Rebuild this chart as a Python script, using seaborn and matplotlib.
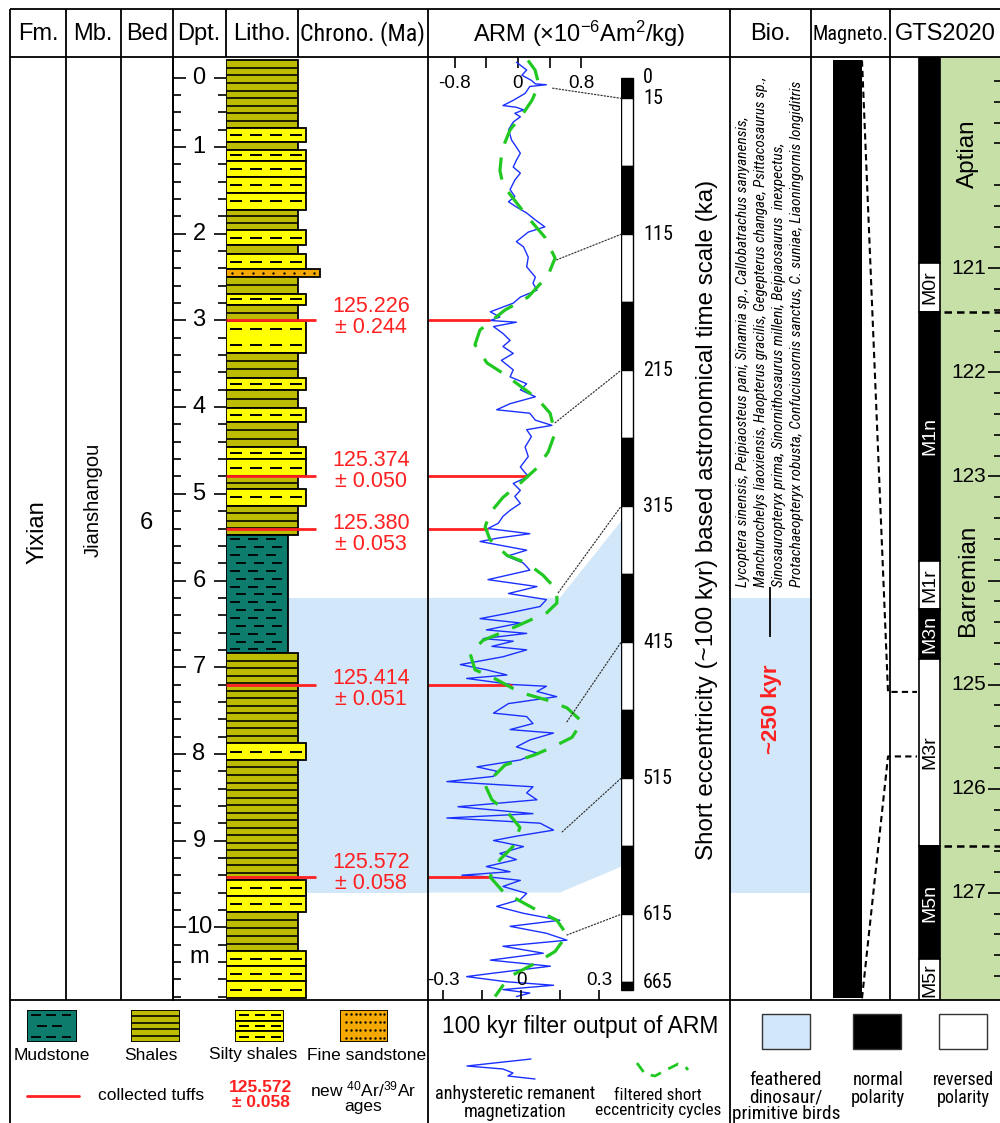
import numpy as np
import pandas as pd
import matplotlib
matplotlib.use("Agg")
import matplotlib.pyplot as plt
import seaborn as sns
from matplotlib import font_manager
from matplotlib.font_manager import FontProperties
from matplotlib.patches import Polygon, Rectangle, ConnectionPatch
from matplotlib.transforms import blended_transform_factory as blend

# ------------------------------------------------------------------ data
# lithology: bed tops (m) and rock type; the last bed ends at the section base
bed_top = [0.00, 0.78, 0.94, 1.03, 1.16, 1.35, 1.53, 1.72, 1.96, 2.13, 2.23, 2.41,
           2.50, 2.69, 2.82, 3.01, 3.37, 3.66, 3.80, 4.01, 4.17, 4.46, 4.60, 4.80,
           4.94, 5.14, 5.48, 6.84, 7.88, 8.07, 9.46, 9.64, 9.83, 10.28, 10.45, 10.62]
section_base = 10.82
bed_lith = ['shale', 'silty', 'shale', 'silty', 'silty', 'silty', 'silty', 'shale',
            'silty', 'shale', 'silty', 'sand', 'shale', 'silty', 'shale', 'silty',
            'shale', 'silty', 'shale', 'silty', 'shale', 'silty', 'silty', 'shale',
            'silty', 'shale', 'mud', 'shale', 'silty', 'shale', 'silty', 'silty',
            'shale', 'silty', 'silty', 'silty']

# dated tuffs
tuff_depth = [3.00, 4.80, 5.40, 7.20, 9.42]
tuff_age = ['125.226', '125.374', '125.380', '125.414', '125.572']
tuff_err = ['0.244', '0.050', '0.053', '0.051', '0.058']

# anhysteretic remanent magnetization (detrended), depth in m
arm_depth = [0.02, 0.11, 0.17, 0.23, 0.27, 0.28, 0.30, 0.38, 0.46, 0.52,
             0.54, 0.57, 0.61, 0.65, 0.71, 0.80, 0.92, 1.00, 1.07, 1.15,
             1.23, 1.30, 1.38, 1.49, 1.57, 1.63, 1.69, 1.76, 1.84, 1.92,
             1.98, 2.09, 2.15, 2.27, 2.38, 2.50, 2.57, 2.65, 2.73, 2.80,
             2.90, 2.96, 3.00, 3.02, 3.07, 3.15, 3.23, 3.30, 3.38, 3.46,
             3.57, 3.65, 3.73, 3.80, 3.88, 3.96, 4.03, 4.07, 4.15, 4.21,
             4.26, 4.34, 4.46, 4.57, 4.69, 4.80, 4.88, 4.96, 5.03, 5.11,
             5.19, 5.26, 5.34, 5.40, 5.46, 5.51, 5.55, 5.65, 5.72, 5.80,
             5.88, 5.99, 6.07, 6.15, 6.22, 6.30, 6.38, 6.44, 6.49, 6.57,
             6.61, 6.67, 6.70, 6.76, 6.80, 6.88, 6.97, 7.03, 7.09, 7.13,
             7.20, 7.22, 7.28, 7.34, 7.42, 7.53, 7.57, 7.65, 7.72, 7.76,
             7.84, 7.92, 7.99, 8.07, 8.15, 8.20, 8.26, 8.32, 8.38, 8.45,
             8.53, 8.61, 8.69, 8.74, 8.80, 8.88, 8.95, 9.00, 9.07, 9.15,
             9.22, 9.30, 9.36, 9.40, 9.42, 9.46, 9.53, 9.61, 9.68, 9.76,
             9.84, 9.92, 9.99, 10.07, 10.15, 10.22, 10.30, 10.38, 10.45, 10.53,
             10.57, 10.63, 10.67, 10.72, 10.76, 10.80]
arm_value = [-0.02, 0.11, 0.05, 0.17, 0.22, 0.36, 0.15, 0.09, -0.06, -0.19,
             -0.02, 0.07, -0.04, 0.03, -0.06, -0.12, -0.08, -0.02, 0.03, -0.02,
             -0.06, 0.03, -0.04, -0.10, -0.04, -0.12, -0.02, 0.11, 0.22, 0.34,
             0.13, -0.02, 0.07, 0.13, 0.11, 0.22, 0.19, 0.24, 0.03, -0.06,
             -0.35, -0.23, -0.35, -0.02, -0.31, -0.19, -0.10, -0.19, -0.06, -0.21,
             -0.06, -0.10, 0.11, 0.03, 0.22, -0.10, -0.27, 0.15, 0.22, 0.43,
             0.11, 0.17, 0.09, 0.13, 0.03, 0.13, -0.06, 0.03, -0.04, 0.03,
             -0.10, -0.19, -0.25, -0.38, 0.15, -0.25, -0.48, 0.11, -0.14, 0.07,
             0.15, -0.38, 0.24, -0.12, 0.36, 0.28, -0.14, -0.48, 0.03, -0.40,
             0.11, -0.44, -0.06, -0.33, 0.11, -0.19, -0.73, -0.40, -0.14, -0.65,
             -0.08, 0.36, 0.24, 0.49, -0.12, -0.31, 0.11, 0.19, -0.10, 0.45,
             0.15, -0.02, 0.24, 0.03, -0.52, -0.27, -0.31, -0.90, 0.19, 0.11,
             0.24, -0.76, 0.19, -0.90, 0.28, 0.45, -0.02, -0.31, 0.07, -0.23,
             -0.02, -0.40, -0.10, -0.71, -0.37, 0.03, -0.19, 0.11, 0.03, -0.27,
             0.07, 0.53, -0.10, 0.36, 0.62, -0.19, 0.32, -0.35, 0.41, -0.31,
             -0.65, -0.14, 0.45, -0.19, 0.15, -0.02]

# 100-kyr band-pass output of ARM (short eccentricity)
ecc_depth = [0.00, 0.11, 0.28, 0.46, 0.63, 0.80, 1.03, 1.27, 1.44, 1.65,
             1.84, 2.04, 2.28, 2.48, 2.73, 2.88, 3.11, 3.28, 3.49, 3.61,
             3.90, 4.07, 4.30, 4.52, 4.70, 4.88, 5.04, 5.22, 5.38, 5.53,
             5.71, 5.80, 5.94, 6.11, 6.26, 6.37, 6.51, 6.61, 6.69, 6.84,
             7.03, 7.12, 7.29, 7.38, 7.47, 7.63, 7.81, 7.92, 8.01, 8.13,
             8.36, 8.53, 8.68, 8.85, 9.07, 9.22, 9.42, 9.59, 9.71, 9.81,
             9.92, 10.09, 10.28, 10.40, 10.55, 10.67, 10.80]
ecc_value = [0.027, 0.054, 0.069, 0.042, 0.004, -0.042, -0.073, -0.081, -0.069, -0.015,
             0.035, 0.092, 0.131, 0.104, 0.027, -0.062, -0.158, -0.177, -0.131, -0.069,
             0.062, 0.112, 0.131, 0.104, 0.062, -0.004, -0.069, -0.119, -0.138, -0.119,
             -0.054, 0.023, 0.085, 0.138, 0.138, 0.100, -0.004, -0.081, -0.146, -0.196,
             -0.177, -0.108, -0.004, 0.100, 0.177, 0.235, 0.196, 0.123, 0.054, -0.062,
             -0.138, -0.112, -0.050, -0.004, -0.031, -0.081, -0.119, -0.069, 0.004, 0.065,
             0.138, 0.177, 0.131, 0.065, -0.031, -0.069, -0.100]

arm_ticks = [-0.8, -0.4, 0.0, 0.4, 0.8]
arm_tick_labels = ['-0.8', '', '0', '', '0.8']
ecc_ticks = [-0.3, -0.15, 0.0, 0.15, 0.3]
ecc_tick_labels = ['-0.3', '', '0', '', '0.3']

# astronomical time scale (ka): alternating 50-kyr half cycles
ats_bounds = [0, 15, 65, 115, 165, 215, 265, 315, 365, 415, 465, 515, 565, 615, 665, 671]
ats_labels = [0, 15, 115, 215, 315, 415, 515, 615, 665]
tie_ka = [15, 115, 215, 315, 415, 515, 615]
tie_depth = [0.32, 2.30, 4.18, 6.14, 7.63, 8.90, 10.09]
tie_arm = [0.44, 0.49, 0.47, 0.51, 0.62, 0.56, 0.62]

# feathered dinosaur / primitive bird interval
band_top, band_base = 6.20, 9.60
band_top_ka, band_base_ka = 326, 580
band_corner_arm = 0.53
fossil_top, fossil_base = 6.07, 6.65

bio_lines = [
    "Lycoptera sinensis, Peipiaosteus pani, Sinamia sp., Callobatrachus sanyanensis,",
    "Manchurochelys liaoxiensis, Haopterus gracilis, Gegepterus changae, Psittacosaurus sp.,",
    "Sinosauropteryx prima, Sinornithosaurus milleni, Beipiaosaurus  inexpectus,",
    "Protachaeopteryx robusta, Confuciusornis sanctus, C. suniae, Liaoningornis longiditris",
]

# magnetostratigraphy of the section
mag_top = [0.00]
mag_base = [10.82]
mag_pol = ['N']
corr_depth = [0.00, 10.82]
corr_ma = [125.07, 125.69]

# GTS2020 polarity chrons and stages (Ma)
chron_top = [118.97, 120.95, 121.42, 123.81, 124.27, 124.75, 126.55, 127.64]
chron_base = chron_top[1:] + [128.03]
chron_name = ['', 'M0r', 'M1n', 'M1r', 'M3n', 'M3r', 'M5n', 'M5r']
chron_pol = ['N', 'R', 'N', 'R', 'N', 'R', 'N', 'R']
stage_bounds = [121.42, 126.55]
stage_name = ['Aptian', 'Barremian']
stage_mid = [119.9, 124.0]
ma_major = [121, 122, 123, 124, 125, 126, 127]
ma_labels = [121, 122, 123, 125, 126, 127]

# ------------------------------------------------------------------ style
sns.set_theme(style="white", rc={"axes.edgecolor": "black", "text.color": "black",
                                 "xtick.color": "black", "ytick.color": "black"})
SANS = ['Liberation Sans', 'DejaVu Sans']
plt.rcParams['font.family'] = SANS
plt.rcParams['mathtext.fontset'] = 'custom'
plt.rcParams['mathtext.rm'] = 'Liberation Sans'
plt.rcParams['mathtext.it'] = 'Liberation Sans:italic'
plt.rcParams['mathtext.bf'] = 'Liberation Sans:bold'


def _weight(v):
    try:
        return int(v)
    except (TypeError, ValueError):
        return {'normal': 400, 'regular': 400, 'book': 400, 'roman': 400}.get(str(v).lower(), 0)


COND_PREF = ['Liberation Sans Narrow', 'Arial Narrow', 'Roboto Condensed', 'Roboto',
             'Noto Sans', 'Open Sans', 'Lato', 'Inter', 'DejaVu Sans']


def find_condensed(italic):
    """Return the file of a regular-weight condensed sans face, if one is installed."""
    best = None
    for f in font_manager.fontManager.ttflist:
        low = f.name.lower()
        st = str(f.stretch).lower()
        cond = ('narrow' in low or ('condensed' in low and 'extra' not in low and 'ultra' not in low)
                or st in ('condensed', 'semi-condensed'))
        if not cond or any(k in f.name for k in ('Mono', 'Serif', 'CJK', 'Display')):
            continue
        if not 350 <= _weight(f.weight) <= 450:
            continue
        if (str(f.style).lower() in ('italic', 'oblique')) != italic:
            continue
        rank = next((i for i, p in enumerate(COND_PREF) if f.name.startswith(p)), len(COND_PREF))
        key = (rank, 0 if (st == 'condensed' or 'narrow' in low) else 1)
        if best is None or key < best[0]:
            best = (key, f.fname)
    return best[1] if best else None


COND_FILE = find_condensed(False)
COND_IT_FILE = find_condensed(True)

RED = '#ff2121'
BLUE = '#1a30ff'
GREEN = '#22c822'
BAND = '#d2e7f9'
GTS_GREEN = '#c6e0a8'
LITH = {
    'shale': dict(c='#bdbb02', w=72),
    'silty': dict(c='#ffff00', w=80),
    'sand': dict(c='#f5a900', w=94),
    'mud': dict(c='#0e7c6c', w=62),
}

W, H = 1000, 1123
TOP, BOT = 57, 1000
D_LIM = (10.84, -0.04)
KA_LIM = (678.0, -15.4)
MA_LIM = (128.03, 118.97)

fig = plt.figure(figsize=(W / 100, H / 100), dpi=100)


def box(x0, y0, x1, y1, z=1):
    ax = fig.add_axes([x0 / W, 1 - y1 / H, (x1 - x0) / W, (y1 - y0) / H], zorder=z)
    ax.patch.set_visible(False)
    for s in ax.spines.values():
        s.set_visible(False)
    ax.set_xticks([])
    ax.set_yticks([])
    ax.grid(False)
    return ax


fit_jobs = []


def txt(ax, x, y, s, size, narrow=False, italic=False, fit=None, vertical=False, **kw):
    kw.setdefault('ha', 'center')
    kw.setdefault('va', 'center')
    path = (COND_IT_FILE if italic else COND_FILE) if narrow else None
    if path:
        t = ax.text(x, y, s, fontproperties=FontProperties(fname=path, size=size), **kw)
    else:
        t = ax.text(x, y, s, fontsize=size, family=SANS,
                    style='italic' if italic else 'normal', **kw)
    if fit is not None:
        fit_jobs.append((t, fit, vertical))
    return t


def draw_beds(ax, tops, bases, kinds, row, widths=None, dash=(12, 20), dot_dx=10.3, lw=1.3):
    tops = np.asarray(tops, float)
    bases = np.asarray(bases, float)
    th = bases - tops
    w = np.array([LITH[k]['w'] for k in kinds], float) if widths is None \
        else np.full(len(kinds), widths, float)
    ax.barh(y=(tops + bases) / 2, width=w, height=th, left=0,
            color=[LITH[k]['c'] for k in kinds], edgecolor='black', linewidth=lw, zorder=2)
    for t0, h, ww, k in zip(tops, th, w, kinds):
        if k == 'shale':
            n = max(1, int(round(h / row)))
            ys = t0 + h * np.arange(1, n) / n
            if len(ys):
                ax.hlines(ys, 0, ww, color='black', lw=lw * 0.9, zorder=3)
        elif k == 'silty':
            n = max(1, int(round(h / (2 * row))))
            ys = t0 + h * (np.arange(n) + 0.5) / n
            xs = np.arange(4, ww - dash[0] + 1, dash[1])
            for yy in ys:
                ax.hlines(np.full(len(xs), yy), xs, xs + dash[0], color='black', lw=1.4, zorder=3)
        elif k == 'mud':
            n = max(1, int(h / row))
            ys = t0 + h * (np.arange(n) + 0.5) / n
            for i, yy in enumerate(ys):
                xs = np.arange(4 + 6 * (i % 2), ww - 10, dash[1] * 0.9)
                ax.hlines(np.full(len(xs), yy), xs, xs + dash[0] * 0.8, color='black', lw=1.3, zorder=3)
        elif k == 'sand':
            n = max(1, int(round(h / row)))
            ys = t0 + h * (np.arange(n) + 0.5) / n
            xs = np.arange(6, ww - 2, dot_dx)
            X, Y = np.meshgrid(xs, ys)
            ax.scatter(X.ravel(), Y.ravel(), s=3, color='black', linewidths=0, zorder=3)


# ------------------------------------------------------------------ axes
ax_dpt = box(173, TOP, 226, BOT)
ax_lith = box(226, TOP, 428, BOT, z=2)
ax_arm = box(428, TOP, 621, BOT, z=2)
ax_time = box(621, TOP, 700, BOT, z=2)
ax_bio = box(730, TOP, 811, BOT)
ax_mag = box(811, TOP, 890, BOT)
ax_gts = box(890, TOP, 1000, BOT)
frame = box(0, 0, W, H, z=10)
frame.set_xlim(0, W)
frame.set_ylim(H, 0)

for a in (ax_dpt, ax_lith, ax_arm, ax_bio, ax_mag):
    a.set_ylim(*D_LIM)
ax_dpt.set_xlim(0, 53)
ax_lith.set_xlim(0, 202)
ax_arm.set_xlim(-1.139, 1.304)
ax_time.set_xlim(0, 79)
ax_time.set_ylim(*KA_LIM)
ax_bio.set_xlim(0, 81)
ax_mag.set_xlim(0, 79)
ax_gts.set_xlim(0, 110)
ax_gts.set_ylim(*MA_LIM)

# ------------------------------------------------------------------ depth scale
ax_dpt.spines['left'].set_visible(True)
ax_dpt.spines['left'].set_linewidth(1.3)
depth_major = [0.2, 1, 2, 3, 4, 5, 6, 7, 8, 9, 10]
depth_labels = ['0', '1', '2', '3', '4', '5', '6', '7', '8', '9', '10']
depth_minor = [round(0.2 * k, 1) for k in range(1, 55) if round(0.2 * k, 1) not in depth_major]
ax_dpt.set_yticks(depth_major)
ax_dpt.set_yticks(depth_minor, minor=True)
ax_dpt.tick_params(axis='y', which='both', left=True, right=True, direction='in',
                   labelleft=False, labelright=False, width=1.2, color='black')
ax_dpt.tick_params(axis='y', which='major', length=9)
ax_dpt.tick_params(axis='y', which='minor', length=6)
ax_dpt.set_ylim(*D_LIM)
for p, lab in zip(depth_major, depth_labels):
    txt(ax_dpt, 26, p, lab, 17)
txt(ax_dpt, 26, 10.34, 'm', 17)

# ------------------------------------------------------------------ lithology + tuffs
ax_lith.axhspan(band_top, band_base, color=BAND, lw=0, zorder=0)
bed_base = bed_top[1:] + [section_base]
draw_beds(ax_lith, bed_top, bed_base, bed_lith, row=0.089)
ax_lith.hlines(tuff_depth, 0, 90, color=RED, lw=2.0, zorder=5)
label_shift = [-0.04, -0.06, 0.06, 0.05, -0.04]
for d, a, e, s in zip(tuff_depth, tuff_age, tuff_err, label_shift):
    txt(ax_lith, 145, d + s, f"{a}\n\u00b1 {e}", 15.5, color=RED, linespacing=1.0, zorder=6)

# ------------------------------------------------------------------ ARM + filter
arm_df = pd.DataFrame({'depth': arm_depth, 'arm': arm_value})
ecc_df = pd.DataFrame({'depth': ecc_depth, 'ecc': ecc_value})
sns.lineplot(data=arm_df, x='arm', y='depth', ax=ax_arm, sort=False, estimator=None,
             color=BLUE, lw=1.0, zorder=3)
ax_g = ax_arm.twiny()
ax_g.set_zorder(3)
ax_g.patch.set_visible(False)
for s in ax_g.spines.values():
    s.set_visible(False)
sns.lineplot(data=ecc_df, x='ecc', y='depth', ax=ax_g, sort=False, estimator=None,
             color=GREEN, lw=2.3)
ax_g.lines[-1].set_linestyle((0, (7, 4.5)))
for a in (ax_arm, ax_g):
    a.set_xlabel('')
    a.set_ylabel('')
    a.grid(False)
ax_arm.set_xlim(-1.139, 1.304)
ax_g.set_xlim(-0.3577, 0.3846)
ax_arm.set_ylim(*D_LIM)

ax_arm.set_xticks(arm_ticks)
ax_arm.set_yticks([])
ax_arm.tick_params(axis='x', top=True, bottom=False, labeltop=False, labelbottom=False,
                   direction='in', length=8, width=1.2, color='black')
ax_g.set_xticks(ecc_ticks)
ax_g.tick_params(axis='x', top=False, bottom=True, labeltop=False, labelbottom=False,
                 direction='in', length=7, width=1.2, color='black')
top_tr = blend(ax_arm.transData, ax_arm.transAxes)
for v, lab in zip(arm_ticks, arm_tick_labels):
    if lab:
        txt(ax_arm, v, 0.9724, lab, 13.5, transform=top_tr)
bot_tr = blend(ax_g.transData, ax_g.transAxes)
for v, lab in zip(ecc_ticks, ecc_tick_labels):
    if lab:
        txt(ax_g, v, 0.0212, lab, 13.5, transform=bot_tr)

ends = np.interp(tuff_depth, arm_depth, arm_value)
ax_arm.hlines(tuff_depth, -1.139, ends, color=RED, lw=2.0, zorder=5)

# time scale bar
seg_lo = ats_bounds[:-1]
seg_h = np.diff(ats_bounds)
seg_col = ['black' if i % 2 == 0 else 'white' for i in range(len(seg_lo))]
ax_time.bar(x=6, width=12, bottom=seg_lo, height=seg_h, color=seg_col,
            edgecolor='black', linewidth=1.0, zorder=3)
for t in ats_labels:
    txt(ax_time, 22, t, str(t), 14.5, narrow=True, ha='left')
txt(frame, 707, 520, 'Short eccentricity (~100 kyr) based astronomical time scale (ka)', 15,
    rotation=90, fit=680, vertical=True)


def to_data(ax_from, ax_to, x, y):
    return ax_to.transData.inverted().transform(ax_from.transData.transform((x, y)))


xr_top = to_data(ax_time, ax_arm, 0, band_top_ka)
xr_bot = to_data(ax_time, ax_arm, 0, band_base_ka)
band_poly = [(-1.139, band_top), (band_corner_arm, band_top), tuple(xr_top),
             tuple(xr_bot), (band_corner_arm, band_base), (-1.139, band_base)]
ax_arm.add_patch(Polygon(band_poly, closed=True, fc=BAND, ec='none', zorder=0))

for t, d, v in zip(tie_ka, tie_depth, tie_arm):
    fig.add_artist(ConnectionPatch(xyA=(v, d), coordsA=ax_arm.transData,
                                   xyB=(0, t), coordsB=ax_time.transData,
                                   ls=(0, (1, 1.6)), lw=0.9, color='#333333', zorder=4))

# ------------------------------------------------------------------ biostratigraphy
ax_bio.axhspan(band_top, band_base, color=BAND, lw=0, zorder=0)
ax_bio.vlines(40, fossil_top, fossil_base, color='black', lw=1.3)
bio_x = [13, 31, 49, 67]
bio_len = [475, 513, 443, 506]
for x, line, L in zip(bio_x, bio_lines, bio_len):
    txt(ax_bio, x, 6.07, line, 10, narrow=True, italic=True, rotation=90, va='bottom',
        fit=L, vertical=True)
txt(ax_bio, 41, 7.49, '~250 kyr', 16, rotation=90, color=RED, weight='bold')

# ------------------------------------------------------------------ magnetostratigraphy
ax_mag.bar(x=36.5, width=29, bottom=mag_top, height=np.subtract(mag_base, mag_top),
           color=['black' if p == 'N' else 'white' for p in mag_pol], lw=0)

# ------------------------------------------------------------------ GTS2020
ax_gts.axvspan(50, 110, color=GTS_GREEN, lw=0, zorder=0)
ax_gts.bar(x=39.5, width=21, bottom=chron_top, height=np.subtract(chron_base, chron_top),
           color=['black' if p == 'N' else 'white' for p in chron_pol],
           edgecolor='black', linewidth=1.2, zorder=2)
for n, t0, t1, p in zip(chron_name, chron_top, chron_base, chron_pol):
    if n:
        txt(ax_gts, 39.5, (t0 + t1) / 2, n, 14, rotation=90,
            color='white' if p == 'N' else 'black', zorder=4)
ax_gts.hlines(stage_bounds, 29, 110, color='black', lw=1.8, ls=(0, (3, 2)), zorder=3)
for n, m in zip(stage_name, stage_mid):
    txt(ax_gts, 78, m, n, 17.5, rotation=90)
ax_gts.set_yticks(ma_major)
ax_gts.set_yticks([round(119.2 + 0.2 * k, 1) for k in range(44)
                   if abs(round(119.2 + 0.2 * k, 1) - round(119.2 + 0.2 * k)) > 0.01],
                  minor=True)
ax_gts.tick_params(axis='y', which='both', left=False, right=True, labelleft=False,
                   labelright=False, direction='in', width=1.2, color='black')
ax_gts.tick_params(axis='y', which='major', length=9)
ax_gts.tick_params(axis='y', which='minor', length=4)
ax_gts.set_ylim(*MA_LIM)
for m in ma_labels:
    txt(ax_gts, 96, m, str(m), 15, ha='right')


def fpx(ax, x, y):
    return frame.transData.inverted().transform(ax.transData.transform((x, y)))


for d, m in zip(corr_depth, corr_ma):
    p0 = fpx(ax_mag, 51, d)
    p1 = fpx(ax_gts, -2, m)
    p2 = fpx(ax_gts, 27, m)
    frame.plot([p0[0], p1[0], p2[0]], [p0[1], p1[1], p2[1]], color='black',
               lw=1.5, ls=(0, (3, 2)))

# ------------------------------------------------------------------ frame + headers
LW = 1.3
frame.hlines([9, TOP, BOT], 10, W, color='black', lw=LW)
frame.vlines([10, 66, 121, 173, 226, 298, 428, 730, 811, 890], 9, TOP, color='black', lw=LW)
frame.vlines([10, 66, 121, 173, 428, 730, 811, 890], TOP, BOT, color='black', lw=LW)
frame.vlines([10, 428, 730], BOT, H, color='black', lw=LW)

for s, x in [("Fm.", 38), ("Mb.", 93), ("Bed", 147), ("Dpt.", 199), ("Litho.", 262),
             ("Bio.", 770), ("GTS2020", 945)]:
    txt(frame, x, 34, s, 17)
txt(frame, 363, 34, "Chrono. (Ma)", 17, narrow=True, fit=125)
txt(frame, 850, 34, "Magneto.", 17, narrow=True, fit=76)
txt(frame, 579, 34, "ARM (\u00d710$^{-6}$Am$^{2}$/kg)", 17)

txt(frame, 38, 532, "Yixian", 17, rotation=90)
txt(frame, 93, 500, "Jianshangou", 14.5, rotation=90)
txt(frame, 146, 523, "6", 17)

# ------------------------------------------------------------------ legend row
sw_h = 32
lg_mud = box(27, 1010, 77, 1042, z=5)
lg_sha = box(131, 1010, 180, 1042, z=5)
lg_sil = box(235, 1010, 284, 1042, z=5)
lg_snd = box(340, 1010, 388, 1042, z=5)
for a, w in ((lg_mud, 50), (lg_sha, 49), (lg_sil, 49), (lg_snd, 48)):
    a.set_xlim(0, w)
    a.set_ylim(sw_h, 0)
draw_beds(lg_mud, [0], [sw_h], ['mud'], row=10, widths=50, dash=(12, 17))
draw_beds(lg_sha, [0], [sw_h], ['shale'], row=6.4, widths=49)
draw_beds(lg_sil, [0, 10.7, 21.3], [10.7, 21.3, sw_h], ['silty'] * 3, row=10, widths=49, dash=(10, 16))
draw_beds(lg_snd, [0], [sw_h], ['sand'], row=7.5, widths=48, dot_dx=4.8)
for s, x in [("Mudstone", 52), ("Shales", 151), ("Silty shales", 253), ("Fine sandstone", 367)]:
    txt(frame, x, 1055, s, 12.5)
frame.plot([27, 79], [1096, 1096], color=RED, lw=2.0)
txt(frame, 151, 1095, "collected tuffs", 12.5)
txt(frame, 261, 1095, "125.572\n\u00b1 0.058", 12.5, color=RED, weight='bold', linespacing=1.0)
txt(frame, 363, 1097, "new $^{40}$Ar/$^{39}$Ar\nages", 12.5, linespacing=1.0)

txt(frame, 580, 1026, "100 kyr filter output of ARM", 16.5)
frame.plot([531, 467, 503, 513, 508, 535], [1059, 1066, 1069, 1073, 1076, 1079], color=BLUE, lw=1.0)
frame.plot([637, 645, 655, 668, 678, 685, 688], [1063, 1074, 1076, 1069, 1064, 1066, 1070],
           color=GREEN, lw=2.0, ls=(0, (4, 3)))
txt(frame, 515, 1103, "anhysteretic remanent\nmagnetization", 14, narrow=True, fit=160, linespacing=0.95)
txt(frame, 658, 1103, "filtered short\neccentricity cycles", 14, narrow=True, fit=126, linespacing=0.95)

for x0, fc in ((762, BAND), (853, 'black'), (939, 'white')):
    frame.add_patch(Rectangle((x0, 1014), 48, 35, fc=fc, ec='#333333', lw=1.0))
txt(frame, 786, 1097, "feathered\ndinosaur/\nprimitive birds", 14, narrow=True, fit=108, linespacing=0.95)
txt(frame, 878, 1089, "normal\npolarity", 14, narrow=True, fit=54, linespacing=0.95)
txt(frame, 963, 1089, "reversed\npolarity", 14, narrow=True, fit=61, linespacing=0.95)

# ------------------------------------------------------------------ size the condensed labels
renderer = fig.canvas.get_renderer()
for t, L, vert in fit_jobs:
    for _ in range(3):
        bb = t.get_window_extent(renderer)
        cur = bb.height if vert else bb.width
        if cur > 0:
            t.set_fontsize(t.get_fontsize() * L / cur)

fig.savefig("out.png", dpi=100)
